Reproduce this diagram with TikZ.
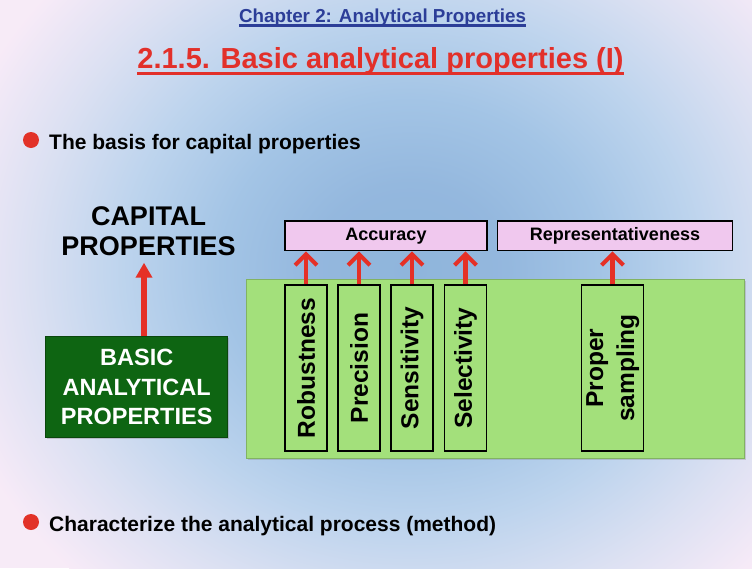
\documentclass[tikz,border=0pt]{standalone}
\usepackage{fontspec}
\setmainfont{Liberation Sans}
\usetikzlibrary{arrows.meta,shadows}
\definecolor{chapblue}{HTML}{2C3E98}
\definecolor{titlered}{HTML}{E2302A}
\definecolor{bulletred}{HTML}{E23228}
\definecolor{arrowred}{HTML}{E53026}
\definecolor{darkgreen}{HTML}{0E6512}
\definecolor{lightgreen}{HTML}{A3E07B}
\definecolor{pinkfill}{HTML}{F0C8EE}
\definecolor{bgouter}{rgb}{0.97,0.92,0.97}
\pgfdeclareradialshading{bgshade}{\pgfpoint{0bp}{0bp}}{rgb(0bp)=(0.56,0.71,0.86); rgb(10bp)=(0.58,0.72,0.87); rgb(20bp)=(0.64,0.77,0.90); rgb(30bp)=(0.74,0.83,0.93); rgb(40bp)=(0.86,0.88,0.95); rgb(50bp)=(0.97,0.92,0.97)}
\begin{document}
\begin{tikzpicture}[x=1pt,y=-1pt,
  txt/.style={inner sep=0pt, font=\bfseries},
  pinkbox/.style={draw=black, line width=1.5pt, fill=pinkfill, inner sep=0pt, font=\bfseries\fontsize{18}{20}\selectfont},
  vbox/.style={draw=black, line width=1.5pt, inner sep=0pt, minimum height=166pt, font=\bfseries\fontsize{24.5}{31}\selectfont},
  uparrow/.style={draw=arrowred, line width=4.5pt, -{Straight Barb[length=11pt,width=22pt,line width=4pt]}},
  bigarrow/.style={draw=arrowred, line width=6pt, -{Triangle[length=15pt,width=16pt]}},
  bullet/.style={circle, fill=bulletred, minimum size=16pt, inner sep=0pt},
]
\useasboundingbox (0,0) rectangle (752,568);
\begin{scope}
\clip (0,0) rectangle (752,568);
\fill[bgouter] (0,0) rectangle (752,568);
\pgftransformshift{\pgfpoint{410pt}{-270pt}}
\pgftransformxscale{9.5}
\pgftransformyscale{8.5}
\pgflowlevelsynccm
\pgfuseshading{bgshade}
\end{scope}

% titles
\node[txt, anchor=base, text=chapblue, font=\bfseries\fontsize{18.8}{22}\selectfont] (chap) at (382.5,22.7) {Chapter 2: Analytical Properties};
\draw[chapblue, line width=2.2pt] ([yshift=-2.8pt]chap.base west) -- ([yshift=-2.8pt]chap.base east);
\node[txt, anchor=base, text=titlered, font=\bfseries\fontsize{29}{33}\selectfont] (title) at (380.5,68) {2.1.5. Basic analytical properties (I)};
\draw[titlered, line width=3.5pt] ([yshift=-5.5pt]title.base west) -- ([yshift=-5.5pt]title.base east);

% bullet 1
\node[bullet] (b1) at (31,140) {};
\node[txt, anchor=base west, font=\bfseries\fontsize{21}{25}\selectfont] (t1) at (49,149.3) {The basis for capital properties};

% capital properties
\node[txt, align=center, font=\bfseries\fontsize{27}{29.7}\selectfont] (cap) at (148.5,231.4) {CAPITAL\\PROPERTIES};
\coordinate (bigtip) at (144,262.7);

% basic analytical properties
\node[fill=darkgreen, draw=darkgreen!70!black, line width=0.6pt, minimum width=182pt, minimum height=101pt, inner sep=0pt,
      text=white, align=center, font=\bfseries\fontsize{23.5}{29.5}\selectfont,
      drop shadow={shadow xshift=1.5pt, shadow yshift=-1.5pt, opacity=0.35}] (basic) at (136.7,387.2) {BASIC\\ANALYTICAL\\PROPERTIES};
\draw[bigarrow] (basic.north -| bigtip) -- (bigtip);

% light green panel
\node[fill=lightgreen, draw=lightgreen!80!black, line width=0.6pt, minimum width=498pt, minimum height=179pt, inner sep=0pt,
      drop shadow={shadow xshift=1.5pt, shadow yshift=-1.5pt, opacity=0.3}] (panel) at (495,368.7) {};

% top boxes
\node[pinkbox, minimum width=202pt, minimum height=29.7pt] (acc) at (386,235.8) {Accuracy};
\node[pinkbox, minimum width=234.6pt, minimum height=29.7pt] (rep) at (615,235.8) {Representativeness};

% vertical boxes
\node[vbox, minimum width=42pt] (rob) at (306,368) {\rotatebox{90}{Robustness}};
\node[vbox, minimum width=42pt] (pre) at (359,368) {\rotatebox{90}{Precision}};
\node[vbox, minimum width=42pt] (sen) at (412,368) {\rotatebox{90}{Sensitivity}};
\node[vbox, minimum width=42pt] (sel) at (465.5,368) {\rotatebox{90}{Selectivity}};
\node[vbox, minimum width=59pt] (prop) at (612.5,368) {\rotatebox{90}{\begin{tabular}{@{}c@{}}Proper\\sampling\end{tabular}}};

% arrows
\draw[uparrow] (rob.north) -- (rob.north |- acc.south);
\draw[uparrow] (pre.north) -- (pre.north |- acc.south);
\draw[uparrow] (sen.north) -- (sen.north |- acc.south);
\draw[uparrow] (sel.north) -- (sel.north |- acc.south);
\draw[uparrow] (prop.north) -- (prop.north |- rep.south);

% bullet 2
\node[bullet] (b2) at (31,522) {};
\node[txt, anchor=base west, font=\bfseries\fontsize{21}{25}\selectfont] (t2) at (49,531.3) {Characterize the analytical process (method)};
\end{tikzpicture}
\end{document}
